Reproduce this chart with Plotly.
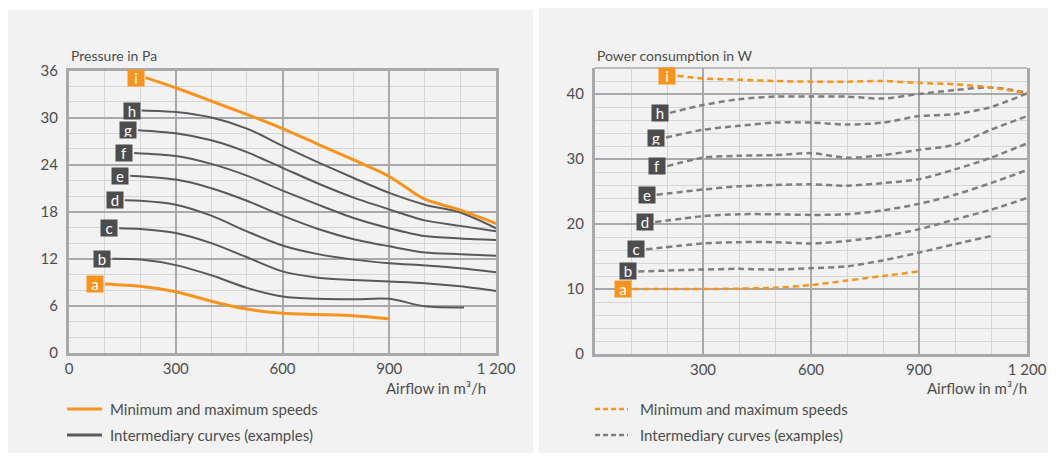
import plotly.graph_objects as go

# page is shown with an 8px body margin: figure occupies the rest of the 1056x457 window
OFF = 8
W, H = 1056 - OFF, 457 - OFF

# ---------------- data: pressure chart (Pa vs m3/h) ----------------
pressure_letters = ["a", "b", "c", "d", "e", "f", "g", "h", "i"]
pa_a_x = [101, 200, 300, 400, 500, 600, 700, 800, 900]
pa_a_y = [8.8, 8.5, 7.8, 6.6, 5.6, 5.05, 4.9, 4.75, 4.35]
pa_b_x = [122, 200, 300, 400, 500, 600, 700, 800, 900, 1000, 1110]
pa_b_y = [12.0, 11.9, 11.2, 9.9, 8.3, 7.2, 6.9, 6.85, 6.9, 5.95, 5.8]
pa_c_x = [141, 200, 300, 400, 500, 600, 700, 800, 900, 1000, 1100, 1200]
pa_c_y = [15.9, 15.8, 15.3, 14.0, 12.2, 10.4, 9.6, 9.3, 9.1, 8.9, 8.5, 7.9]
pa_d_x = [157, 200, 300, 400, 500, 600, 700, 800, 900, 1000, 1100, 1200]
pa_d_y = [19.45, 19.4, 18.9, 17.5, 15.5, 13.7, 12.6, 11.9, 11.45, 11.15, 10.8, 10.3]
pa_e_x = [172, 300, 400, 500, 600, 700, 800, 900, 1000, 1100, 1200]
pa_e_y = [22.6, 22.1, 21.0, 19.4, 17.5, 15.8, 14.5, 13.6, 12.8, 12.6, 12.4]
pa_f_x = [183, 300, 400, 500, 600, 700, 800, 900, 1000, 1100, 1200]
pa_f_y = [25.5, 25.1, 24.1, 22.6, 20.7, 18.9, 17.2, 15.9, 14.9, 14.6, 14.4]
pa_g_x = [194, 300, 400, 500, 600, 700, 800, 900, 1000, 1100, 1200]
pa_g_y = [28.4, 28.0, 27.1, 25.6, 23.6, 21.6, 19.8, 18.3, 16.9, 16.2, 15.5]
pa_h_x = [204, 300, 400, 500, 600, 700, 800, 900, 1000, 1100, 1200]
pa_h_y = [30.9, 30.7, 30.0, 28.6, 26.4, 24.3, 22.3, 20.4, 18.9, 17.9, 15.9]
pa_i_x = [215, 300, 400, 500, 600, 700, 800, 900, 950, 1000, 1100, 1200]
pa_i_y = [35.1, 33.8, 32.1, 30.4, 28.6, 26.6, 24.6, 22.5, 21.0, 19.6, 18.2, 16.5]

# ---------------- data: power chart (W vs m3/h) ----------------
w_a_x = [105, 300, 400, 500, 600, 700, 800, 900]
w_a_y = [10.0, 10.0, 10.05, 10.2, 10.6, 11.3, 12.0, 12.7]
w_b_x = [120, 300, 400, 500, 600, 700, 800, 900, 1000, 1105]
w_b_y = [12.7, 13.0, 13.1, 13.0, 13.2, 13.5, 14.4, 15.6, 16.9, 18.2]
w_c_x = [142, 300, 400, 500, 600, 700, 800, 900, 1000, 1100, 1200]
w_c_y = [16.1, 17.0, 17.2, 17.2, 17.0, 17.4, 18.1, 19.2, 20.7, 22.2, 24.0]
w_d_x = [167, 300, 400, 500, 600, 700, 800, 900, 1000, 1100, 1200]
w_d_y = [20.3, 21.2, 21.5, 21.5, 21.4, 21.5, 22.1, 23.1, 24.5, 26.3, 28.3]
w_e_x = [171, 300, 400, 500, 600, 700, 800, 900, 1000, 1100, 1200]
w_e_y = [24.5, 25.3, 25.8, 26.0, 26.1, 25.9, 26.3, 26.9, 28.4, 30.2, 32.4]
w_f_x = [201, 300, 400, 500, 600, 700, 800, 900, 1000, 1100, 1200]
w_f_y = [28.9, 30.2, 30.5, 30.6, 30.9, 30.2, 30.6, 31.4, 32.2, 34.5, 36.6]
w_g_x = [197, 300, 400, 500, 600, 700, 800, 900, 1000, 1100, 1200]
w_g_y = [33.3, 34.5, 35.1, 35.6, 35.6, 35.3, 35.6, 36.6, 36.9, 38.0, 40.1]
w_h_x = [208, 300, 400, 500, 600, 700, 800, 900, 1000, 1100, 1200]
w_h_y = [37.1, 38.3, 39.2, 39.6, 39.6, 39.6, 39.3, 40.0, 40.6, 41.0, 40.2]
w_i_x = [229, 300, 400, 500, 600, 700, 800, 900, 1000, 1100, 1200]
w_i_y = [42.8, 42.4, 42.2, 42.0, 41.9, 41.9, 42.0, 41.7, 41.5, 41.0, 40.1]

# ---------------- ticks & texts ----------------
pa_xtick_vals = [0, 300, 600, 900, 1200]
pa_xtick_text = ["0", "300", "600", "900", "1 200"]
pa_ytick_vals = [0, 6, 12, 18, 24, 30, 36]
w_xtick_vals = [300, 600, 900, 1200]
w_xtick_text = ["300", "600", "900", "1 200"]
w_ytick_vals = [0, 10, 20, 30, 40]
legend_texts = ["Minimum and maximum speeds", "Intermediary curves (examples)"]

pa_series = [(pa_a_x, pa_a_y), (pa_b_x, pa_b_y), (pa_c_x, pa_c_y), (pa_d_x, pa_d_y),
             (pa_e_x, pa_e_y), (pa_f_x, pa_f_y), (pa_g_x, pa_g_y), (pa_h_x, pa_h_y),
             (pa_i_x, pa_i_y)]
w_series = [(w_a_x, w_a_y), (w_b_x, w_b_y), (w_c_x, w_c_y), (w_d_x, w_d_y),
            (w_e_x, w_e_y), (w_f_x, w_f_y), (w_g_x, w_g_y), (w_h_x, w_h_y),
            (w_i_x, w_i_y)]

ORANGE = "#f7941d"
DARK = "#58595b"
DASHGRAY = "#7f7f7f"
BOXDARK = "#4d4d4f"
MAJOR = "#a7a9ac"
MINOR = "#d4d5d6"
TXT = "#4d4d4d"
FONT = "Lato, 'Open Sans', sans-serif"

fig = go.Figure()

# pressure curves
for letter, (xs, ys) in zip(pressure_letters, pa_series):
    extreme = letter in ("a", "i")
    fig.add_trace(go.Scatter(
        x=xs, y=ys, mode="lines", xaxis="x", yaxis="y", showlegend=False, hoverinfo="skip",
        line=dict(color=ORANGE if extreme else DARK, width=3 if extreme else 2,
                  shape="spline", smoothing=0.8)))
    fig.add_annotation(x=xs[0], y=ys[0], xref="x", yref="y", text=letter,
                       xanchor="right", yanchor="middle", xshift=-1, showarrow=False,
                       bgcolor=ORANGE if extreme else BOXDARK, width=14, height=14,
                       borderpad=1, font=dict(family=FONT, size=15, color="white"))

# power curves
for letter, (xs, ys) in zip(pressure_letters, w_series):
    extreme = letter in ("a", "i")
    fig.add_trace(go.Scatter(
        x=xs, y=ys, mode="lines", xaxis="x2", yaxis="y2", showlegend=False, hoverinfo="skip",
        line=dict(color=ORANGE if extreme else DASHGRAY, width=2.5, dash="6px,4px",
                  shape="spline", smoothing=0.8)))
    fig.add_annotation(x=xs[0], y=ys[0], xref="x2", yref="y2", text=letter,
                       xanchor="right", yanchor="middle", xshift=-1, showarrow=False,
                       bgcolor=ORANGE if extreme else BOXDARK, width=14, height=14,
                       borderpad=1, font=dict(family=FONT, size=15, color="white"))


def px(x):
    return (x - OFF) / W


def py(y):
    return 1 - (y - OFF) / H


axis_common = dict(showgrid=True, gridcolor=MAJOR, gridwidth=2, zeroline=False,
                   showline=True, linecolor=MAJOR, linewidth=3, ticks="",
                   automargin=False,
                   tickfont=dict(family=FONT, size=15, color=TXT), fixedrange=True,
                   layer="below traces")

fig.update_layout(
    template="none",
    width=W, height=H, margin=dict(l=0, r=0, t=0, b=0, pad=0), autosize=False,
    paper_bgcolor="white", plot_bgcolor="rgba(0,0,0,0)",
    font=dict(family=FONT, color=TXT),
    xaxis=dict(domain=[px(69), px(496)], range=[0, 1200], anchor="y",
               tickmode="array", tickvals=pa_xtick_vals, ticktext=pa_xtick_text,
               minor=dict(tickmode="linear", tick0=0, dtick=100, showgrid=True,
                          gridcolor=MINOR, gridwidth=1.3),
               mirror=True, ticklabelstandoff=0, **axis_common),
    yaxis=dict(domain=[py(353), py(70.5)], range=[0, 36], anchor="x",
               tickmode="array", tickvals=pa_ytick_vals,
               minor=dict(tickmode="linear", tick0=0, dtick=2, showgrid=True,
                          gridcolor=MINOR, gridwidth=1.3),
               mirror=True, ticklabelstandoff=5, **axis_common),
    xaxis2=dict(domain=[px(595), px(1027)], range=[0, 1200], anchor="y2",
                tickmode="array", tickvals=w_xtick_vals, ticktext=w_xtick_text,
                minor=dict(tickmode="linear", tick0=0, dtick=100, showgrid=True,
                           gridcolor=MINOR, gridwidth=1.3),
                mirror=False, ticklabelstandoff=0, **axis_common),
    yaxis2=dict(domain=[py(354), py(68)], range=[0, 44], anchor="x2",
                tickmode="array", tickvals=w_ytick_vals,
                minor=dict(tickmode="linear", tick0=0, dtick=2, showgrid=True,
                           gridcolor=MINOR, gridwidth=1.3),
                mirror=True, ticklabelstandoff=5, **axis_common),
)

shapes = [
    dict(type="rect", xref="paper", yref="paper", x0=px(8), x1=px(533), y0=py(453), y1=py(10),
         fillcolor="#f2f2f2", line=dict(width=0), layer="below"),
    dict(type="rect", xref="paper", yref="paper", x0=px(539), x1=px(1056), y0=py(453), y1=py(8),
         fillcolor="#f2f2f2", line=dict(width=0), layer="below"),
    dict(type="line", xref="x2 domain", yref="y2 domain", x0=0, x1=1, y0=1, y1=1,
         line=dict(color=MAJOR, width=1.5), layer="below"),
    # legend samples
    dict(type="line", xref="paper", yref="paper", x0=px(67), x1=px(102), y0=py(409), y1=py(409),
         line=dict(color=ORANGE, width=3)),
    dict(type="line", xref="paper", yref="paper", x0=px(67), x1=px(102), y0=py(435), y1=py(435),
         line=dict(color=DARK, width=3)),
    dict(type="line", xref="paper", yref="paper", x0=px(595), x1=px(628), y0=py(409), y1=py(409),
         line=dict(color=ORANGE, width=2.5, dash="5px,3px")),
    dict(type="line", xref="paper", yref="paper", x0=px(595), x1=px(628), y0=py(435), y1=py(435),
         line=dict(color=DASHGRAY, width=2.5, dash="5px,3px")),
]
fig.update_layout(shapes=shapes)


def label(text, x, y, anchor, size):
    fig.add_annotation(text=text, xref="paper", yref="paper", x=px(x), y=py(y),
                       xanchor=anchor, yanchor="middle", showarrow=False,
                       font=dict(family=FONT, size=size, color=TXT))


label("Pressure in Pa", 69, 55, "left", 14)
label("Power consumption in W", 595, 55, "left", 14)
label("Airflow in m³/h", 488, 388, "right", 15)
label("Airflow in m³/h", 1029, 388, "right", 15)
label(legend_texts[0], 108, 409, "left", 15)
label(legend_texts[1], 108, 435, "left", 15)
label(legend_texts[0], 638, 409, "left", 15)
label(legend_texts[1], 638, 435, "left", 15)

fig.write_html("out.html")
